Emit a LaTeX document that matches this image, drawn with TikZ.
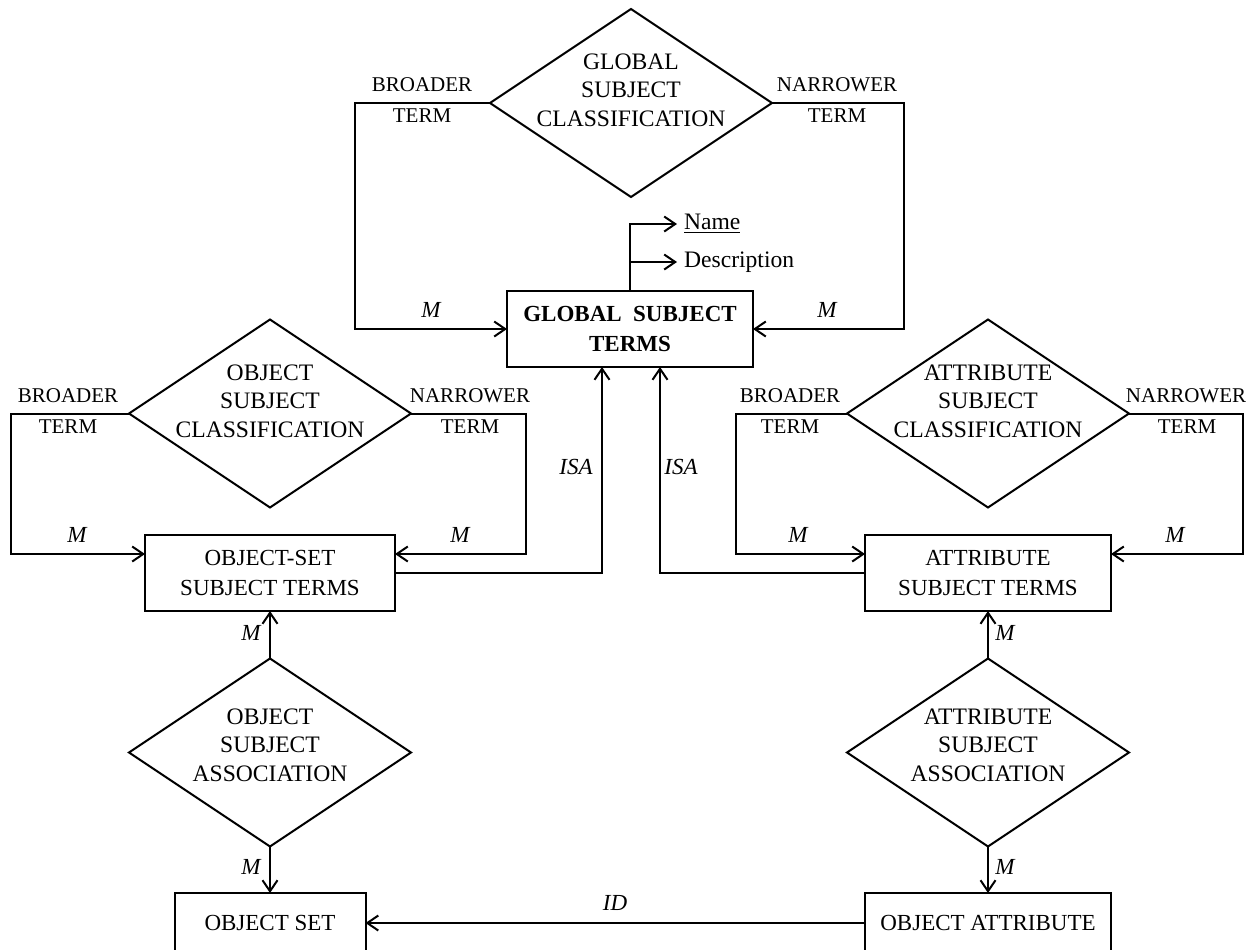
\documentclass[tikz,border=0pt]{standalone}
\usepackage{fontspec}
\setmainfont{Liberation Serif}
\usetikzlibrary{shapes.geometric,arrows.meta}

\begin{document}
\begin{tikzpicture}[x=0.5pt,y=-0.5pt,
    font=\fontsize{11.8}{14.3}\selectfont,
    rel/.style={draw, diamond, line width=1pt, inner sep=0pt, outer sep=0pt,
      minimum width=141pt, minimum height=94pt},
    reltext/.style={align=center, inner sep=0pt},
    ent/.style={draw, rectangle, line width=1pt, inner sep=0pt, outer sep=0pt,
      minimum height=38pt, align=center, font=\fontsize{11.5}{15.3}\selectfont},
    role/.style={font=\fontsize{10.5}{12}\selectfont},
    card/.style={font=\fontsize{11.5}{14}\selectfont\itshape},
    conn/.style={line width=1pt, -{Straight Barb[length=5.5pt,width=7.5pt]}},
    wire/.style={line width=1pt}]
  \useasboundingbox (0,0) rectangle (1252,949);

  % relationships
  \node[rel] (gsc) at (631,103) {};
  \node[reltext] (gsct) at ([yshift=6.5pt]gsc.center) {GLOBAL\\SUBJECT\\CLASSIFICATION};
  \node[rel] (oscl) at (270,413.5) {};
  \node[reltext] (osclt) at ([yshift=6.25pt]oscl.center) {OBJECT\\SUBJECT\\CLASSIFICATION};
  \node[rel] (ascl) at (988,413.5) {};
  \node[reltext] (asclt) at ([yshift=6.25pt]ascl.center) {ATTRIBUTE\\SUBJECT\\CLASSIFICATION};
  \node[rel] (osa) at (270,752.5) {};
  \node[reltext] (osat) at ([yshift=3.75pt]osa.center) {OBJECT\\SUBJECT\\ASSOCIATION};
  \node[rel] (asa) at (988,752.5) {};
  \node[reltext] (asat) at ([yshift=3.75pt]asa.center) {ATTRIBUTE\\SUBJECT\\ASSOCIATION};

  % entities
  \node[ent, minimum width=123pt, font=\fontsize{11.5}{15}\selectfont\bfseries] (gst) at (630,329) {GLOBAL\ \ SUBJECT\\TERMS};
  \node[ent, minimum width=125pt] (osst) at (270,573) {OBJECT-SET\\SUBJECT TERMS};
  \node[ent, minimum width=123pt] (ast) at (988,573) {ATTRIBUTE\\SUBJECT TERMS};
  \node[ent, minimum width=95.5pt, minimum height=30pt] (os) at (270,923) {OBJECT SET};
  \node[ent, minimum width=123pt, minimum height=30pt] (oa) at (988,923) {OBJECT ATTRIBUTE};

  % attributes
  \node[anchor=west] (name) at (677,224) {\underline{Name}};
  \node[anchor=west] (desc) at (677,262) {Description};
  \draw[conn] (gst.north) |- (name.west);
  \draw[conn] (gst.north |- desc.west) -- (desc.west);

  % broader / narrower loops
  \draw[conn] (gsc.west) -- ++(-135,0) |- (gst.west);
  \draw[conn] (gsc.east) -- ++(132,0) |- (gst.east);
  \draw[conn] (oscl.west) -- ++(-118,0) |- ([yshift=9.5pt]osst.west);
  \draw[conn] (oscl.east) -- ++(115,0) |- ([yshift=9.5pt]osst.east);
  \draw[conn] (ascl.west) -- ++(-111,0) |- ([yshift=9.5pt]ast.west);
  \draw[conn] (ascl.east) -- ++(114,0) |- ([yshift=9.5pt]ast.east);

  % isa links
  \draw[conn] (osst.east) -| ([xshift=-14pt]gst.south);
  \draw[conn] (ast.west) -| ([xshift=15pt]gst.south);

  % associations
  \draw[conn] (osa.north) -- (osst.south);
  \draw[conn] (osa.south) -- (os.north);
  \draw[conn] (asa.north) -- (ast.south);
  \draw[conn] (asa.south) -- (oa.north);
  \draw[conn] (oa.west) -- (os.east);

  % role labels
  \node[role] (b1) at (422,85) {BROADER};
  \node[role] (b1t) at (422,116) {TERM};
  \node[role] (n1) at (837,85) {NARROWER};
  \node[role] (n1t) at (837,116) {TERM};
  \node[role] (b2) at (68,396) {BROADER};
  \node[role] (b2t) at (68,427) {TERM};
  \node[role] (n2) at (470,396) {NARROWER};
  \node[role] (n2t) at (470,427) {TERM};
  \node[role] (b3) at (790,396) {BROADER};
  \node[role] (b3t) at (790,427) {TERM};
  \node[role] (n3) at (1186,396) {NARROWER};
  \node[role] (n3t) at (1187,427) {TERM};

  % cardinalities
  \node[card] (m1) at (431,310) {M};
  \node[card] (m2) at (827,310) {M};
  \node[card] (m3) at (77,535) {M};
  \node[card] (m4) at (460,535) {M};
  \node[card] (m5) at (798,535) {M};
  \node[card] (m6) at (1175,535) {M};
  \node[card] (m7) at (251,633) {M};
  \node[card] (m8) at (1005,633) {M};
  \node[card] (m9) at (251,867) {M};
  \node[card] (m10) at (1005,867) {M};
  \node[card] (isa1) at (576,467) {ISA};
  \node[card] (isa2) at (681,467) {ISA};
  \node[card] (id) at (615,903) {ID};
\end{tikzpicture}
\end{document}
